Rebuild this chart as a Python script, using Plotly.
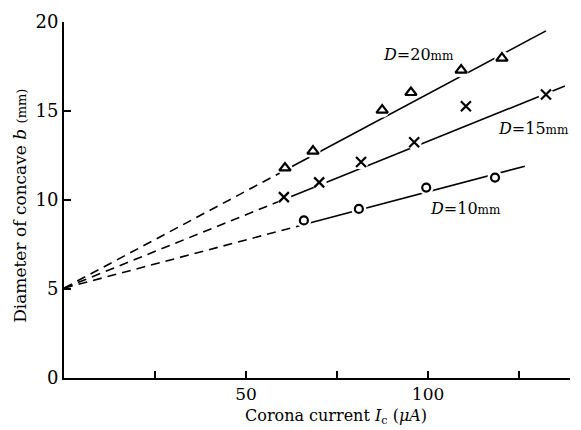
import plotly.graph_objects as go

# ---- data ----
d20_x = [60.7, 68.4, 87.4, 95.3, 109.1, 120.3]
d20_y = [11.8, 12.75, 15.05, 16.04, 17.3, 17.97]
d15_x = [60.4, 70.1, 81.6, 96.2, 110.4, 132.4]
d15_y = [10.16, 10.99, 12.14, 13.24, 15.27, 15.93]
d10_x = [65.9, 81.0, 99.5, 118.4]
d10_y = [8.85, 9.5, 10.7, 11.26]

# fitted lines: [start (extrapolated), first measured, end]
fit20_x = [0, 60.7, 132.4]
fit20_y = [5.05, 11.67, 19.5]
fit15_x = [0, 60.4, 137.6]
fit15_y = [5.05, 10.03, 16.4]
fit10_x = [0, 65.9, 126.6]
fit10_y = [5.05, 8.62, 11.9]

x_tickvals = [50, 100]
x_minor_tickvals = [25, 75, 125]
y_tickvals = [0, 5, 10, 15, 20]

labels = ["<i>D</i>=20<span style='font-size:12px'>mm</span>",
          "<i>D</i>=15<span style='font-size:12px'>mm</span>",
          "<i>D</i>=10<span style='font-size:12px'>mm</span>"]
label_x = [87.1, 118.7, 100.0]
label_y = [18.2, 14.0, 9.5]

FONT = "DejaVu Serif"
fig = go.Figure()

series = [
    (fit20_x, fit20_y, d20_x, d20_y, "triangle-up-open", 10),
    (fit15_x, fit15_y, d15_x, d15_y, "x-thin-open", 10),
    (fit10_x, fit10_y, d10_x, d10_y, "circle-open", 8),
]
for fx, fy, mx, my, sym, ms in series:
    fig.add_trace(go.Scatter(x=fx[:2], y=fy[:2], mode="lines",
                             line=dict(color="black", width=1.6, dash="9px,6px"),
                             showlegend=False, hoverinfo="skip"))
    fig.add_trace(go.Scatter(x=fx[1:], y=fy[1:], mode="lines",
                             line=dict(color="black", width=1.6),
                             showlegend=False, hoverinfo="skip"))
for fx, fy, mx, my, sym, ms in series:
    fig.add_trace(go.Scatter(x=mx, y=my, mode="markers",
                             marker=dict(symbol="circle", size=15, color="white",
                                         line=dict(width=0)),
                             showlegend=False, hoverinfo="skip"))
    fig.add_trace(go.Scatter(x=mx, y=my, mode="markers",
                             marker=dict(symbol=sym, size=ms, color="black",
                                         line=dict(width=2.2, color="black")),
                             showlegend=False))

for t, x, y in zip(labels, label_x, label_y):
    fig.add_annotation(x=x, y=y, text=t, showarrow=False, xanchor="left",
                       yanchor="middle", font=dict(family=FONT, size=16, color="black"))

fig.add_annotation(x=74.7, xref="x", y=-0.108, yref="paper",
                   text="Corona current <i>I</i><sub>c</sub> (<i>μA</i>)",
                   showarrow=False, xanchor="center", yanchor="middle",
                   font=dict(family=FONT, size=16, color="black"))
fig.add_annotation(x=-0.087, xref="paper", y=9.67, yref="y",
                   text="Diameter of concave <i>b</i> <span style='font-size:13px'>(mm)</span>",
                   showarrow=False, textangle=-90, xanchor="center", yanchor="middle",
                   font=dict(family=FONT, size=17, color="black"))

fig.update_xaxes(range=[0, 139], tickvals=x_tickvals,
                 ticks="inside", ticklen=7, tickwidth=2, tickcolor="black",
                 minor=dict(tickvals=x_minor_tickvals, ticks="inside", ticklen=7,
                            tickwidth=2, tickcolor="black", showgrid=False),
                 showline=True, linewidth=2, linecolor="black", showgrid=False,
                 zeroline=False, tickfont=dict(family=FONT, size=17, color="black"))
fig.update_yaxes(range=[0, 20], tickvals=y_tickvals,
                 ticks="inside", ticklen=7, tickwidth=2, tickcolor="black",
                 showline=True, linewidth=2, linecolor="black", showgrid=False,
                 zeroline=False, tickfont=dict(family=FONT, size=18, color="black"))

fig.update_layout(width=581, height=430, margin=dict(l=64, r=11, t=14, b=52),
                  plot_bgcolor="white", paper_bgcolor="white", showlegend=False)

fig.write_html("out.html", config={"displayModeBar": False},
               post_script="document.body.style.margin='0';document.body.style.overflow='hidden';")
